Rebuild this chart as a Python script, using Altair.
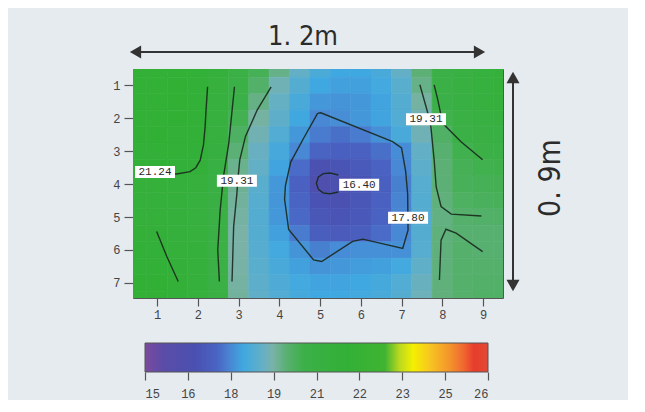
import altair as alt
import pandas as pd

# ---------------- data ----------------
# temperature field (deg C) sampled at half-cell steps across the 9 x 7 grid
grid_x = [0.5, 1.0, 1.5, 2.0, 2.5, 3.0, 3.5, 4.0, 4.5, 5.0, 5.5, 6.0, 6.5, 7.0, 7.5, 8.0, 8.5, 9.0, 9.5]
grid_y = [0.5, 1.0, 1.5, 2.0, 2.5, 3.0, 3.5, 4.0, 4.5, 5.0, 5.5, 6.0, 6.5, 7.0, 7.5]
temps = [
    [21.6, 21.6, 21.55, 21.4, 20.95, 20.35, 19.9, 19.35, 18.75, 18.35, 18.15, 18.15, 18.3, 18.75, 19.5, 20.2, 20.6, 20.9, 21.1],
    [21.6, 21.6, 21.5, 21.35, 20.85, 20.2, 19.65, 18.95, 18.5, 18.15, 18.05, 18.05, 18.2, 18.6, 19.35, 20.2, 20.6, 20.9, 21.1],
    [21.6, 21.6, 21.5, 21.35, 20.83, 20.1, 19.38, 18.8, 18.3, 17.95, 17.9, 17.95, 18.1, 18.5, 19.15, 20.1, 20.5, 20.8, 21.0],
    [21.55, 21.55, 21.5, 21.35, 20.79, 19.96, 19.16, 18.66, 18.17, 17.75, 17.82, 17.95, 18.1, 18.45, 19.0, 20.0, 20.35, 20.6, 20.8],
    [21.5, 21.5, 21.45, 21.33, 20.73, 19.74, 18.97, 18.46, 17.95, 17.6, 17.45, 17.6, 17.85, 18.3, 18.95, 19.7, 20.2, 20.4, 20.5],
    [21.45, 21.45, 21.4, 21.3, 20.64, 19.51, 18.83, 18.27, 17.75, 17.3, 17.15, 17.2, 17.45, 17.8, 18.75, 19.55, 20.0, 20.15, 20.25],
    [21.35, 21.35, 21.3, 21.2, 20.5, 19.31, 18.75, 18.1, 17.4, 16.65, 16.75, 16.95, 17.25, 17.75, 18.65, 19.5, 19.9, 20.0, 20.05],
    [21.15, 21.1, 21.0, 20.85, 20.4, 19.25, 18.6, 17.95, 17.2, 16.3, 16.5, 16.8, 17.15, 17.65, 18.55, 19.5, 19.85, 19.9, 19.95],
    [21.1, 21.05, 20.95, 20.8, 20.45, 19.2, 18.55, 17.92, 17.3, 16.7, 16.65, 16.85, 17.2, 17.7, 18.5, 19.45, 19.75, 19.8, 19.85],
    [21.1, 21.1, 20.95, 20.8, 20.35, 19.15, 18.5, 17.95, 17.35, 16.85, 16.75, 16.9, 17.25, 17.7, 18.5, 19.4, 19.6, 19.65, 19.7],
    [21.25, 21.2, 21.05, 20.85, 20.33, 19.1, 18.5, 18.05, 17.6, 17.1, 17.0, 17.1, 17.4, 17.75, 18.5, 19.45, 19.55, 19.55, 19.55],
    [21.35, 21.3, 21.15, 20.95, 20.3, 19.1, 18.55, 18.2, 17.9, 17.65, 17.8, 17.85, 17.85, 17.85, 18.55, 19.45, 19.6, 19.55, 19.55],
    [21.45, 21.4, 21.2, 21.0, 20.3, 19.12, 18.6, 18.3, 18.05, 17.9, 17.95, 18.0, 18.05, 18.2, 18.7, 19.45, 19.6, 19.6, 19.6],
    [21.5, 21.5, 21.25, 21.0, 20.32, 19.15, 18.65, 18.4, 18.2, 18.1, 18.1, 18.15, 18.25, 18.45, 18.85, 19.45, 19.6, 19.65, 19.65],
    [21.55, 21.5, 21.3, 21.05, 20.4, 19.2, 18.7, 18.45, 18.25, 18.15, 18.15, 18.2, 18.3, 18.5, 18.9, 19.45, 19.6, 19.7, 19.7],
]

x_ticks = [1, 2, 3, 4, 5, 6, 7, 8, 9]
y_ticks = [1, 2, 3, 4, 5, 6, 7]

# colour bar: range and its nine evenly spaced ticks
cb_range = [15, 26]
cb_ticks = [15, 16.375, 17.75, 19.125, 20.5, 21.875, 23.25, 24.625, 26]

# colour map
cmap_values = [15.0, 15.6, 16.6, 17.3, 17.75, 18.15, 18.8, 19.1, 19.55, 20.1, 21.5, 22.7, 23.15, 23.6, 24.1, 24.7, 25.2, 25.55, 26.0]
cmap_colors = ["#7b4a9d", "#5a4ca8", "#4a50b0", "#4a64c4", "#4888d4", "#40a8e0", "#66b0c4", "#7ab2a8",
               "#58b070", "#3cb048", "#32b036", "#40b432", "#b8d820", "#f4f000", "#f8c820", "#f49a2a",
               "#f06a30", "#e83c2c", "#e04a34"]

# isotherm lines traced on the picture (grid units)
contour_lines = {
    "A": [(2.24, 1.04), (2.2, 1.8), (2.18, 2.25), (2.14, 2.8), (2.06, 3.27), (1.95, 3.5), (1.81, 3.62), (1.48, 3.69), (1.1, 3.66)],
    "B": [(2.9, 1.04), (2.83, 1.9), (2.76, 2.76), (2.63, 3.77), (2.55, 4.78), (2.49, 6.0), (2.53, 6.96)],
    "C": [(3.8, 1.04), (3.46, 1.74), (3.17, 2.55), (3.03, 3.26), (2.98, 3.9), (2.96, 4.28), (2.88, 5.29), (2.84, 6.96)],
    "G": [(0.99, 5.44), (1.24, 6.2), (1.52, 6.96)],
    "P": [(4.94, 1.85), (5.02, 1.83), (6.78, 2.71), (7.0, 2.9), (7.1, 3.6), (7.15, 4.3), (7.16, 5.4), (7.03, 5.95),
          (6.05, 5.67), (5.8, 5.74), (5.04, 6.35), (4.84, 6.3), (4.23, 5.38), (4.13, 4.46), (4.15, 4.05), (4.28, 3.33),
          (4.59, 2.62), (4.94, 1.85)],
    "O": [(5.45, 3.72), (5.25, 3.66), (5.08, 3.68), (4.96, 3.78), (4.91, 3.97), (4.96, 4.16), (5.08, 4.27), (5.25, 4.29), (5.45, 4.24)],
    "D": [(7.45, 0.98), (7.6, 1.64), (7.68, 2.0), (7.72, 2.25), (7.8, 3.26), (7.85, 4.08), (7.97, 4.68), (8.22, 4.91), (8.96, 4.97)],
    "E": [(7.8, 0.98), (7.89, 1.44), (8.01, 2.15), (8.46, 2.71), (8.99, 3.26)],
    "F": [(7.93, 6.91), (7.97, 5.7), (8.09, 5.37), (8.34, 5.49), (8.99, 6.05)],
}

label_text = ["21.24", "19.31", "16.40", "17.80", "19.31"]
label_x = [0.95, 2.96, 5.96, 7.16, 7.6]
label_y = [3.63, 3.9, 4.02, 5.02, 2.03]

width_text = "1. 2m"
depth_text = "0. 9m"

# ---------------- tables ----------------
heat_rows = []
for j, yv in enumerate(grid_y):
    for i, xv in enumerate(grid_x):
        heat_rows.append({"x0": xv - 0.25, "x1": xv + 0.25, "y0": yv - 0.25, "y1": yv + 0.25, "t": temps[j][i]})
heat_df = pd.DataFrame(heat_rows)

cont_rows = []
for name, pts in contour_lines.items():
    for k, (xv, yv) in enumerate(pts):
        cont_rows.append({"c": name, "i": k, "x": xv, "y": yv})
cont_df = pd.DataFrame(cont_rows)

lab_df = pd.DataFrame({"label": label_text, "x": label_x, "y": label_y})
cb_df = pd.DataFrame({"lo": [cb_range[0]], "hi": [cb_range[1]]})
one = pd.DataFrame({"k": [0]})

# ---------------- chart ----------------
LABEL_FONT = "Liberation Mono"
xs = alt.Scale(domain=[0.41, 9.49], nice=False, zero=False)
ys = alt.Scale(domain=[0.5, 7.46], nice=False, zero=False, reverse=True)
cs = alt.Scale(domain=cmap_values, range=cmap_colors, type="linear", clamp=True, interpolate="rgb")


def x_axis():
    return alt.Axis(values=x_ticks, tickCount=len(x_ticks), title=None, grid=False, domain=False, tickSize=8,
                    tickColor="#555", tickWidth=1.2, labelFont=LABEL_FONT, labelFontSize=12, labelColor="#444",
                    labelPadding=3, labelOverlap=False, labelBound=False)


def y_axis():
    return alt.Axis(values=y_ticks, tickCount=len(y_ticks), title=None, grid=False, domain=False, tickSize=9,
                    tickColor="#555", tickWidth=1.2, labelFont=LABEL_FONT, labelFontSize=12, labelColor="#444",
                    labelPadding=4, labelOverlap=False, labelBound=False)


heat = alt.Chart(heat_df).mark_rect(clip=True, strokeWidth=0.6).encode(
    x=alt.X("x0:Q", scale=xs, axis=x_axis()),
    x2="x1:Q",
    y=alt.Y("y0:Q", scale=ys, axis=y_axis()),
    y2="y1:Q",
    color=alt.Color("t:Q", scale=cs, legend=None),
    stroke=alt.Stroke("t:Q", scale=cs, legend=None),
)

cont = alt.Chart(cont_df).mark_line(clip=True, color="#1a281c", strokeWidth=1.4, strokeOpacity=0.9).encode(
    x=alt.X("x:Q", scale=xs, axis=x_axis()),
    y=alt.Y("y:Q", scale=ys, axis=y_axis()),
    detail="c:N",
    order="i:Q",
)

boxes = alt.Chart(lab_df).mark_point(
    shape="M-1,-0.3L1,-0.3L1,0.3L-1,0.3Z", size=1600, filled=True, color="white", opacity=1
).encode(x=alt.X("x:Q", scale=xs, axis=x_axis()), y=alt.Y("y:Q", scale=ys, axis=y_axis()))

texts = alt.Chart(lab_df).mark_text(font=LABEL_FONT, fontSize=11, color="#2a2a2a").encode(
    x=alt.X("x:Q", scale=xs, axis=x_axis()), y=alt.Y("y:Q", scale=ys, axis=y_axis()), text="label:N"
)

inner = alt.layer(heat, cont, boxes, texts)

grad = {
    "gradient": "linear", "x1": 0, "x2": 1, "y1": 0, "y2": 0,
    "stops": [{"offset": (v - cb_range[0]) / (cb_range[1] - cb_range[0]), "color": c}
              for v, c in zip(cmap_values, cmap_colors)],
}
cb_axis = alt.Axis(orient="bottom", offset=74, values=cb_ticks, format=".0f", tickSize=8, domain=False,
                   grid=False, title=None, labelPadding=8, labelFont=LABEL_FONT, labelFontSize=12,
                   labelColor="#444", tickColor="#555", tickWidth=1.2, labelOverlap=False)
colorbar = alt.Chart(cb_df).mark_rect(fill=grad, stroke="#555", strokeWidth=1).encode(
    x=alt.X("lo:Q", scale=alt.Scale(domain=cb_range, range=[12, 355], nice=False, zero=False), axis=cb_axis),
    x2="hi:Q",
    y=alt.value(274),
    y2=alt.value(303),
)

ARROW = "#333333"
top_line = alt.Chart(one).mark_rule(color=ARROW, strokeWidth=2).encode(
    x=alt.value(4), x2=alt.value(345), y=alt.value(-17))
left_head = alt.Chart(one).mark_point(shape="triangle-left", size=170, filled=True, color=ARROW, opacity=1).encode(
    x=alt.value(2.5), y=alt.value(-17))
right_head = alt.Chart(one).mark_point(shape="triangle-right", size=170, filled=True, color=ARROW, opacity=1).encode(
    x=alt.value(346.5), y=alt.value(-17))
vert_line = alt.Chart(one).mark_rule(color=ARROW, strokeWidth=2).encode(
    x=alt.value(380), y=alt.value(10), y2=alt.value(215))
up_head = alt.Chart(one).mark_point(shape="triangle-up", size=170, filled=True, color=ARROW, opacity=1).encode(
    x=alt.value(380), y=alt.value(8.5))
down_head = alt.Chart(one).mark_point(shape="triangle-down", size=170, filled=True, color=ARROW, opacity=1).encode(
    x=alt.value(380), y=alt.value(216.5))

t_width = alt.Chart(one).mark_text(text=width_text, font="DejaVu Sans Condensed", fontSize=27, color="#2b2b2b",
                                   align="center", baseline="alphabetic").encode(x=alt.value(170), y=alt.value(-24))
t_depth = alt.Chart(one).mark_text(text=depth_text, font="DejaVu Sans Condensed", fontSize=30, color="#2b2b2b",
                                   align="center", baseline="alphabetic", angle=270).encode(
    x=alt.value(427), y=alt.value(109))

chart = alt.layer(
    inner, colorbar, top_line, left_head, right_head, vert_line, up_head, down_head, t_width, t_depth
).resolve_scale(x="independent").properties(
    width=370, height=229,
    padding={"left": 125, "top": 61, "right": 125, "bottom": 102},
    autosize=alt.AutoSizeParams(type="none"),
    background="#e6ebf0",
).configure_view(stroke="#555", strokeWidth=1)

chart.save("out.html", embed_options={"renderer": "svg", "actions": False})
